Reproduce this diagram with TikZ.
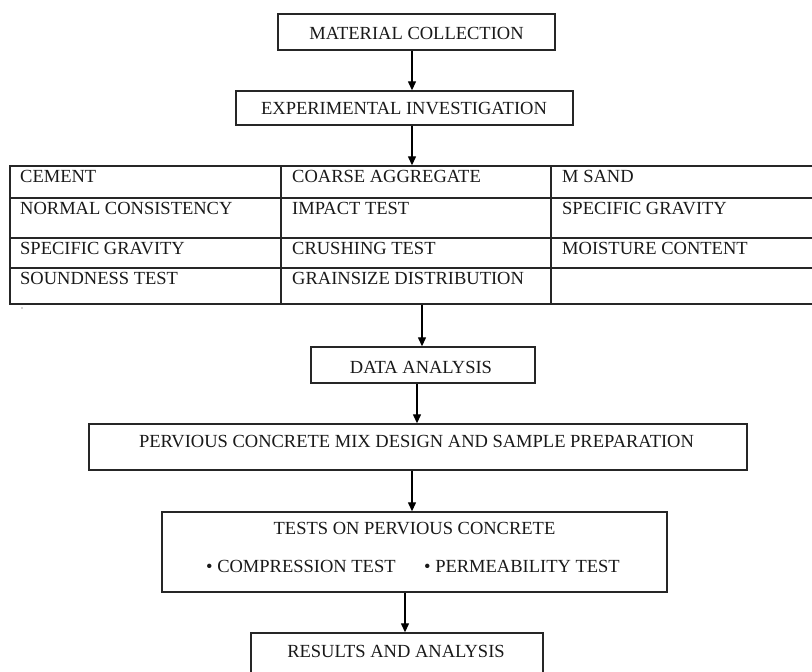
\documentclass[tikz,border=0pt]{standalone}
\usepackage{fontspec}
\setmainfont{Liberation Serif}
\usetikzlibrary{arrows.meta}
\begin{document}
\begin{tikzpicture}[x=1pt,y=-1pt,
  flowbox/.style={draw=black!85,line width=1.4pt,inner sep=0pt,rectangle},
  txt/.style={inner sep=0pt,font=\fontsize{18.5}{22}\selectfont,anchor=base,text=black!90},
  celltxt/.style={txt,anchor=base west},
  conn/.style={draw=black,line width=1.3pt,-{Triangle[length=9pt,width=8pt]}},
  gridline/.style={draw=black!85,line width=1.4pt}]
\useasboundingbox (0,0) rectangle (812,672);
% boxes
\node[flowbox,minimum width=277pt,minimum height=36pt] (mc) at (416.5,32) {};
\node[txt] (mct) at (416.5,39) {MATERIAL COLLECTION};
\node[flowbox,minimum width=337pt,minimum height=34pt] (ei) at (404.5,108) {};
\node[txt] (eit) at (404,114.5) {EXPERIMENTAL INVESTIGATION};
% table
\node[flowbox,minimum width=803pt,minimum height=138pt] (tbl) at (411.5,235) {};
\draw[gridline] (10,198) -- (813,198);
\draw[gridline] (10,238) -- (813,238);
\draw[gridline] (10,268) -- (813,268);
\draw[gridline] (281,166) -- (281,304);
\draw[gridline] (551,166) -- (551,304);
\node[celltxt] (t11) at (20,182) {CEMENT};
\node[celltxt] (t12) at (292,182) {COARSE AGGREGATE};
\node[celltxt] (t13) at (562,182) {M SAND};
\node[celltxt] (t21) at (20,214) {NORMAL CONSISTENCY};
\node[celltxt] (t22) at (292,214) {IMPACT TEST};
\node[celltxt] (t23) at (562,214) {SPECIFIC GRAVITY};
\node[celltxt] (t31) at (20,254) {SPECIFIC GRAVITY};
\node[celltxt] (t32) at (292,254) {CRUSHING TEST};
\node[celltxt] (t33) at (562,254) {MOISTURE CONTENT};
\node[celltxt] (t41) at (20,284) {SOUNDNESS TEST};
\node[celltxt] (t42) at (292,284) {GRAINSIZE DISTRIBUTION};
\fill[gray!70] (22,308) circle (0.9pt);
% lower boxes
\node[flowbox,minimum width=224pt,minimum height=36pt] (da) at (423,365) {};
\node[txt] (dat) at (421,373) {DATA ANALYSIS};
\node[flowbox,minimum width=658pt,minimum height=46pt] (pv) at (418,447) {};
\node[txt] (pvt) at (416.5,447) {PERVIOUS CONCRETE MIX DESIGN AND SAMPLE PREPARATION};
\node[flowbox,minimum width=505pt,minimum height=80pt] (ts) at (414.5,552) {};
\node[txt] (tst) at (414.5,534) {TESTS ON PERVIOUS CONCRETE};
\node[celltxt] (tsb1) at (206,572) {\textbullet\ COMPRESSION TEST};
\node[celltxt] (tsb2) at (424,572) {\textbullet\ PERMEABILITY TEST};
\node[flowbox,minimum width=292pt,minimum height=67pt] (rs) at (397,666.5) {};
\node[txt] (rst) at (396,657) {RESULTS AND ANALYSIS};
% connectors
\coordinate (x1) at (412,0);
\coordinate (x2) at (422,0);
\coordinate (x3) at (417,0);
\coordinate (x4) at (405,0);
\draw[conn] (mc.south -| x1) -- (ei.north -| x1);
\draw[conn] (ei.south -| x1) -- (tbl.north -| x1);
\draw[conn] (tbl.south -| x2) -- (da.north -| x2);
\draw[conn] (da.south -| x3) -- (pv.north -| x3);
\draw[conn] (pv.south -| x1) -- (ts.north -| x1);
\draw[conn] (ts.south -| x4) -- (rs.north -| x4);
\end{tikzpicture}
\end{document}
